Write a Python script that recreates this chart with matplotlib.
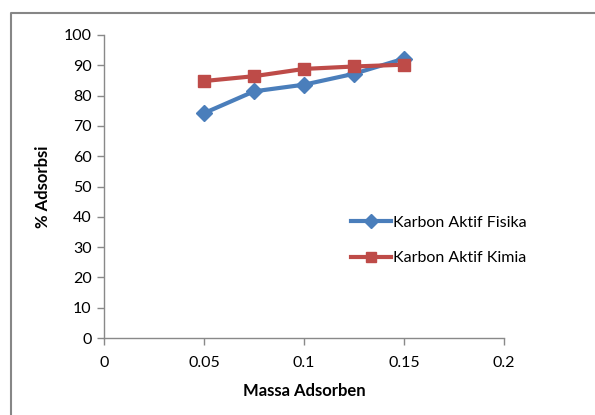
import matplotlib.pyplot as plt
from matplotlib.lines import Line2D

# data: adsorbent mass vs % adsorption
massa = [0.05, 0.075, 0.1, 0.125, 0.15]
fisika = [74.2, 81.4, 83.6, 87.2, 92.2]
kimia = [84.8, 86.4, 88.8, 89.6, 90.2]

x_ticks = [0, 0.05, 0.1, 0.15, 0.2]
x_labels = ['0', '0.05', '0.1', '0.15', '0.2']
y_ticks = [0, 10, 20, 30, 40, 50, 60, 70, 80, 90, 100]

plt.rcParams['font.family'] = ['Lato', 'DejaVu Sans']

fig = plt.figure(figsize=(5.95, 4.15), dpi=100)
ax = fig.add_axes([0.1748, 0.1855, 0.6723, 0.7302])

ax.plot(massa, fisika, color='#4A7EBB', lw=3, marker='D', ms=8.5,
        label='Karbon Aktif Fisika')
ax.plot(massa, kimia, color='#BE4B48', lw=3, marker='s', ms=9,
        label='Karbon Aktif Kimia')

ax.set_xlim(0, 0.2)
ax.set_ylim(0, 100)
ax.set_xticks(x_ticks)
ax.set_xticklabels(x_labels)
ax.set_yticks(y_ticks)

for side in ['top', 'right']:
    ax.spines[side].set_visible(False)
for side in ['left', 'bottom']:
    ax.spines[side].set_color('#898989')
    ax.spines[side].set_linewidth(1)
ax.tick_params(axis='both', colors='#898989', labelcolor='black',
               labelsize=11.5, length=5, width=1)
ax.tick_params(axis='x', pad=8)
ax.tick_params(axis='y', pad=4)

ax.set_xlabel('Massa Adsorben', fontsize=12, fontweight='bold', labelpad=9)
ax.set_ylabel('% Adsorbsi', fontsize=12, fontweight='bold', labelpad=9)

ax.legend(loc='center left', bbox_to_anchor=(0.566, 0.421),
          bbox_transform=fig.transFigure, frameon=False, fontsize=11.5,
          handlelength=2.5, handletextpad=0.15, labelspacing=1.35,
          markerscale=0.8)

# chart area frame
W, H = 595, 415
fig.add_artist(Line2D([11 / W, 11 / W, 1.0], [0.0, 1 - 13 / H, 1 - 13 / H],
                      transform=fig.transFigure, color='#868686', lw=1.5))

fig.savefig('out.png', dpi=100)
